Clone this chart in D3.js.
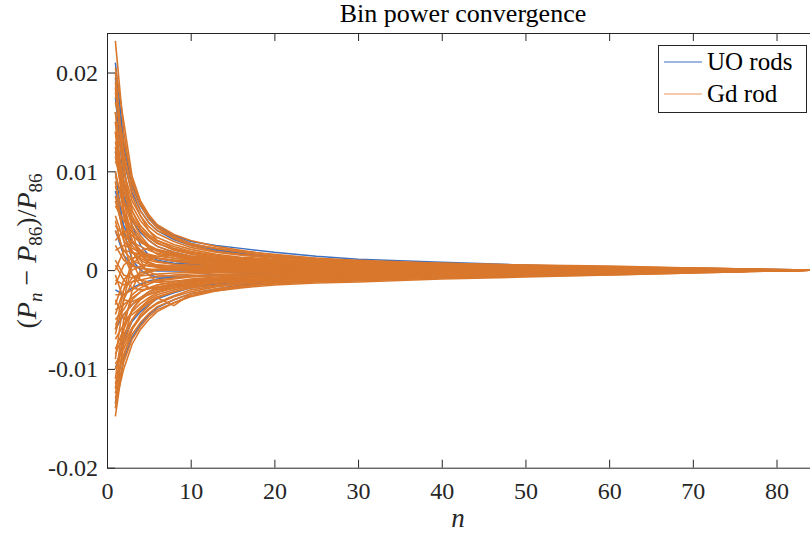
<!DOCTYPE html>
<html>
<head>
<meta charset="utf-8">
<script src="https://cdn.jsdelivr.net/npm/d3@7"></script>
<style>
  body { margin: 0; background: #fff; }
  svg { display: block; }
</style>
</head>
<body>
<div id="chart"></div>
<script>
const nodes = [1, 2, 3, 4, 5, 6, 8, 10, 13, 16, 20, 25, 30, 40, 50, 60, 70, 84];

// relative deviations, in units of 1e-4
const uoRods = [
  [210, 130, 90, 68, 54, 45, 35, 29, 25, 22, 18, 14, 11, 8, 5, 3, 2, 0],
  [195, 125, 85, 65, 52, 43, 33, 27, 21, 17, 14, 11, 9, 6, 4, 3, 1, 0],
  [150, 110, 78, 60, 48, 40, 31, 25, 20, 16, 13, 10, 8, 6, 4, 2, 1, 0],
  [120, 75, 50, 38, 30, 24, 18, 14, 11, 9, 7, 6, 5, 4, 3, 2, 1, 0],
  [80, 45, 28, 20, 15, 12, 9, 7, 6, 5, 4, 4, 3, 2, 2, 1, 0, 0],
  [40, 15, 5, 2, 0, -1, -1, -1, 0, 0, 0, 0, 0, 0, 0, 0, 0, 0],
  [-20, -25, -18, -14, -11, -9, -7, -6, -5, -4, -3, -3, -2, -2, -1, -1, 0, 0],
  [-60, -45, -35, -28, -22, -18, -14, -11, -9, -7, -6, -5, -4, -3, -2, -2, -1, 0],
  [-100, -70, -52, -42, -35, -29, -23, -18, -14, -12, -10, -8, -7, -5, -4, -3, -2, 0],
  [-135, -90, -68, -55, -45, -38, -30, -24, -19, -15, -12, -10, -9, -7, -5, -4, -2, 0],
  [175, 90, 45, 25, 15, 10, 7, 6, 5, 4, 3, 3, 2, 2, 1, 1, 0, 0],
  [100, 40, 10, 0, -5, -7, -7, -6, -5, -5, -4, -4, -3, -2, -2, -1, -1, 0]
];

const gdRod = [
  [232, 140, 88, 66, 52, 44, 34, 27, 22, 19, 16, 12, 10, 7, 5, 3, 2, 0],
  [205, 150, 95, 70, 56, 46, 36, 30, 24, 20, 15, 12, 9, 6, 4, 3, 1, 0],
  [180, 120, 82, 60, 48, 40, 33, 26, 22, 18, 14, 10, 8, 6, 4, 2, 1, 0],
  [160, 100, 70, 55, 40, 30, 22, 18, 14, 12, 10, 8, 7, 5, 4, 3, 2, 0],
  [140, 90, 60, 42, 34, 28, 20, 16, 12, 10, 8, 7, 6, 5, 3, 2, 1, 0],
  [120, 80, 50, 35, 25, 20, 15, 12, 10, 8, 7, 6, 5, 4, 3, 2, 1, 0],
  [100, 60, 40, 30, 22, 16, 12, 10, 8, 7, 6, 5, 4, 3, 2, 1, 1, 0],
  [85, 55, 30, 20, 15, 12, 10, 8, 6, 5, 5, 4, 3, 2, 2, 1, 0, 0],
  [70, 40, 25, 15, 10, 8, 6, 5, 4, 4, 3, 3, 2, 2, 1, 1, 0, 0],
  [55, 30, 18, 12, 8, 5, 4, 3, 3, 2, 2, 2, 1, 1, 1, 0, 0, 0],
  [40, 20, 10, 6, 4, 3, 2, 2, 1, 1, 1, 1, 1, 0, 0, 0, 0, 0],
  [25, 10, 4, 2, 1, 0, 0, -1, -1, -1, 0, 0, 0, 0, 0, 0, 0, 0],
  [10, -5, -8, -6, -5, -4, -3, -2, -2, -2, -1, -1, -1, -1, 0, 0, 0, 0],
  [-10, -15, -12, -10, -8, -7, -5, -4, -3, -3, -2, -2, -2, -1, -1, -1, 0, 0],
  [-25, -25, -20, -15, -12, -10, -8, -6, -5, -4, -4, -3, -3, -2, -2, -1, -1, 0],
  [-40, -35, -28, -22, -18, -15, -12, -9, -7, -6, -5, -4, -3, -3, -2, -2, -1, 0],
  [-55, -45, -35, -28, -22, -18, -14, -11, -9, -8, -7, -6, -5, -4, -3, -2, -1, 0],
  [-70, -55, -42, -34, -28, -23, -18, -14, -11, -9, -8, -7, -6, -5, -4, -3, -2, 0],
  [-85, -65, -50, -40, -33, -28, -22, -17, -13, -11, -10, -9, -8, -6, -5, -3, -2, 0],
  [-100, -75, -58, -47, -39, -33, -26, -20, -16, -14, -12, -11, -9, -7, -6, -4, -2, 0],
  [-115, -85, -65, -53, -44, -37, -30, -24, -19, -16, -14, -12, -11, -8, -6, -5, -3, 0],
  [-130, -93, -70, -57, -47, -40, -33, -27, -21, -18, -15, -13, -12, -9, -7, -5, -3, 0],
  [-148, -88, -60, -45, -36, -28, -36, -24, -21, -17, -13, -11, -10, -8, -6, -4, -2, 0],
  [-60, -20, 10, 20, 22, 20, 17, 14, 12, 10, 9, 8, 7, 5, 3, 2, 1, 0],
  [-120, -60, -20, 0, 10, 14, 15, 13, 11, 9, 8, 7, 6, 4, 3, 2, 1, 0],
  [150, 60, 10, -10, -18, -20, -18, -15, -13, -11, -10, -9, -8, -6, -4, -3, -1, 0],
  [200, 110, 40, 10, -5, -12, -15, -14, -12, -11, -10, -8, -7, -5, -4, -2, -1, 0],
  [30, 40, 35, 28, 24, 20, 16, 13, 11, 9, 8, 7, 6, 4, 3, 2, 1, 0],
  [-30, -50, -45, -38, -32, -27, -22, -18, -15, -13, -12, -11, -10, -7, -6, -4, -2, 0],
  [90, 30, -5, -15, -18, -18, -16, -14, -13, -12, -11, -10, -9, -7, -5, -4, -2, 0],
  [170, 130, 92, 68, 53, 43, 32, 25, 19, 16, 13, 11, 9, 7, 5, 4, 2, 0],
  [-90, -30, 5, 15, 16, 14, 12, 10, 9, 8, 7, 6, 5, 4, 3, 2, 1, 0],
  [115, 70, 45, 32, 24, 19, 14, 11, 9, 7, 6, 5, 5, 3, 2, 2, 1, 0],
  [-45, -20, -8, -3, 0, 1, 2, 2, 2, 2, 1, 1, 1, 1, 0, 0, 0, 0],
  [130, 85, 55, 40, 30, 24, 18, 14, 11, 9, 7, 5, 4, 3, 2, 1, 0, 0],
  [-135, -100, -75, -60, -50, -42, -33, -26, -20, -16, -13, -11, -9, -7, -5, -3, -2, 0],
  [65, 50, 38, 30, 25, 21, 17, 14, 12, 10, 9, 7, 6, 5, 3, 2, 1, 0],
  [-15, 5, 12, 14, 13, 12, 10, 9, 8, 7, 6, 5, 4, 3, 2, 2, 1, 0],
  [5, -10, -18, -20, -19, -17, -14, -12, -10, -9, -8, -7, -6, -4, -3, -2, -1, 0],
  [190, 115, 75, 55, 44, 37, 29, 23, 18, 15, 12, 10, 8, 6, 4, 3, 1, 0],
  [-80, -60, -40, -30, -24, -20, -16, -13, -10, -8, -7, -6, -5, -4, -3, -2, -1, 0],
  [45, 35, 28, 24, 20, 17, 14, 11, 9, 8, 7, 6, 5, 4, 3, 2, 1, 0],
  [-5, -30, -32, -28, -25, -22, -18, -15, -12, -10, -9, -8, -7, -5, -4, -3, -1, 0],
  [20, 25, 22, 18, 15, 12, 9, 7, 5, 4, 3, 3, 2, 2, 1, 1, 0, 0],
  [-65, -30, -12, -5, -2, 0, 1, 1, 1, 1, 1, 0, 0, 0, 0, 0, 0, 0],
  [95, 70, 52, 41, 33, 27, 21, 17, 13, 11, 9, 8, 7, 5, 3, 2, 1, 0],
  [-110, -50, -30, -22, -18, -15, -12, -10, -8, -7, -6, -5, -4, -3, -2, -1, -1, 0],
  [140, 55, 20, 5, -2, -5, -6, -6, -5, -5, -4, -4, -3, -2, -2, -1, 0, 0],
  [-35, -10, 0, 4, 5, 5, 4, 4, 3, 3, 3, 2, 2, 2, 1, 1, 0, 0],
  [75, 35, 18, 10, 6, 3, 1, 0, -1, -2, -2, -2, -2, -1, -1, -1, 0, 0],
  [160, 70, 30, 15, 8, 4, 2, 1, 0, 0, 0, 0, 0, 0, 0, 0, 0, 0],
  [-125, -75, -50, -38, -30, -25, -20, -16, -12, -10, -8, -7, -6, -4, -3, -2, -1, 0],
  [110, 90, 65, 50, 40, 33, 26, 21, 16, 13, 11, 9, 7, 5, 4, 3, 1, 0],
  [-95, -80, -60, -48, -40, -34, -27, -22, -17, -14, -11, -9, -8, -6, -5, -3, -2, 0],
  [50, 15, -5, -10, -12, -12, -11, -10, -9, -8, -7, -6, -5, -4, -3, -2, -1, 0],
  [-50, -40, -25, -18, -14, -11, -9, -7, -6, -5, -4, -4, -3, -2, -2, -1, -1, 0],
  [185, 100, 60, 45, 36, 30, 24, 19, 15, 12, 10, 9, 7, 5, 4, 2, 1, 0],
  [0, 20, 18, 16, 14, 12, 10, 8, 7, 6, 5, 4, 4, 3, 2, 1, 1, 0],
  [-140, -70, -40, -28, -22, -18, -14, -12, -10, -9, -8, -7, -6, -4, -3, -2, -1, 0],
  [125, 60, 30, 18, 12, 9, 6, 4, 3, 2, 2, 1, 1, 1, 0, 0, 0, 0]
];

const xTicks = [0, 10, 20, 30, 40, 50, 60, 70, 80];
const yTicks = [-0.02, -0.01, 0, 0.01, 0.02];
const yTickLabels = ["-0.02", "-0.01", "0", "0.01", "0.02"];

const width = 810, height = 537;
const margin = { top: 33, right: 0, bottom: 70, left: 107 };
const axisColor = "#262626";
const font = "'Liberation Serif', 'DejaVu Serif', serif";

const svg = d3.select("#chart").append("svg")
  .attr("width", width)
  .attr("height", height)
  .style("font-family", font);

const x = d3.scaleLinear().domain([0, 84]).range([margin.left, width - margin.right]);
const y = d3.scaleLinear().domain([-0.02, 0.024]).range([height - margin.bottom + 0.7, margin.top]);

svg.append("defs").append("clipPath").attr("id", "plot")
  .append("rect")
  .attr("x", margin.left).attr("y", margin.top)
  .attr("width", width - margin.left - margin.right)
  .attr("height", y(-0.02) - margin.top);

const line = d3.line()
  .x((d, i) => x(nodes[i]))
  .y(d => y(d * 1e-4));

const plot = svg.append("g").attr("clip-path", "url(#plot)");

plot.selectAll("path.uo")
  .data(uoRods)
  .join("path")
    .attr("class", "uo")
    .attr("d", line)
    .attr("fill", "none")
    .attr("stroke", "#3d6fc0")
    .attr("stroke-width", 1.5);

plot.selectAll("path.gd")
  .data(gdRod)
  .join("path")
    .attr("class", "gd")
    .attr("d", line)
    .attr("fill", "none")
    .attr("stroke", "#d9782d")
    .attr("stroke-width", 1.6);

// axes, MATLAB style: ticks pointing inward, mirrored on top
const tickLen = 8;
svg.append("g")
  .attr("transform", `translate(0,${y(-0.02)})`)
  .call(d3.axisBottom(x).tickValues(xTicks).tickSizeInner(-tickLen).tickSizeOuter(0).tickPadding(14))
  .call(g => g.selectAll("path, line").attr("stroke", axisColor))
  .call(g => g.selectAll("text").attr("font-size", 24).attr("fill", axisColor).attr("font-family", font));

svg.append("g")
  .attr("transform", `translate(0,${margin.top})`)
  .call(d3.axisTop(x).tickValues(xTicks).tickSizeInner(-tickLen).tickSizeOuter(0).tickFormat(""))
  .call(g => g.selectAll("path, line").attr("stroke", axisColor));

svg.append("g")
  .attr("transform", `translate(${margin.left},0)`)
  .call(d3.axisLeft(y).tickValues(yTicks).tickSizeInner(-tickLen).tickSizeOuter(0).tickPadding(9)
    .tickFormat((d, i) => yTickLabels[i]))
  .call(g => g.selectAll("path, line").attr("stroke", axisColor))
  .call(g => g.selectAll("text").attr("font-size", 24).attr("fill", axisColor).attr("font-family", font));

// title
svg.append("text")
  .attr("x", 463).attr("y", 22)
  .attr("text-anchor", "middle")
  .attr("font-size", 26)
  .attr("fill", "#000")
  .text("Bin power convergence");

// x label
svg.append("text")
  .attr("x", 458).attr("y", 527)
  .attr("text-anchor", "middle")
  .attr("font-size", 27)
  .attr("font-style", "italic")
  .attr("fill", axisColor)
  .text("n");

// y label
const yl = svg.append("text")
  .attr("transform", "translate(36,251) rotate(-90)")
  .attr("text-anchor", "middle")
  .attr("font-size", 28)
  .attr("fill", axisColor);
yl.append("tspan").text("(");
yl.append("tspan").attr("font-style", "italic").text("P");
yl.append("tspan").attr("font-style", "italic").attr("font-size", 19).attr("dy", 6).text("n");
yl.append("tspan").attr("dy", -6).text(" − ");
yl.append("tspan").attr("font-style", "italic").text("P");
yl.append("tspan").attr("font-size", 19).attr("dy", 6).text("86");
yl.append("tspan").attr("dy", -6).text(")/");
yl.append("tspan").attr("font-style", "italic").text("P");
yl.append("tspan").attr("font-size", 19).attr("dy", 6).text("86");

// legend
const legend = svg.append("g");
legend.append("rect")
  .attr("x", 658.5).attr("y", 45.5)
  .attr("width", 148).attr("height", 67)
  .attr("fill", "#fff")
  .attr("stroke", axisColor);
const legendItems = [
  { label: "UO rods", color: "#3d6fc0" },
  { label: "Gd rod", color: "#e8955a" }
];
legendItems.forEach((d, i) => {
  const ly = 62 + i * 32;
  legend.append("line")
    .attr("x1", 664).attr("x2", 702)
    .attr("y1", ly).attr("y2", ly)
    .attr("stroke", d.color).attr("stroke-width", 1);
  legend.append("text")
    .attr("x", 707).attr("y", ly + 8)
    .attr("font-size", 25)
    .attr("fill", "#000")
    .text(d.label);
});
</script>
</body>
</html>
